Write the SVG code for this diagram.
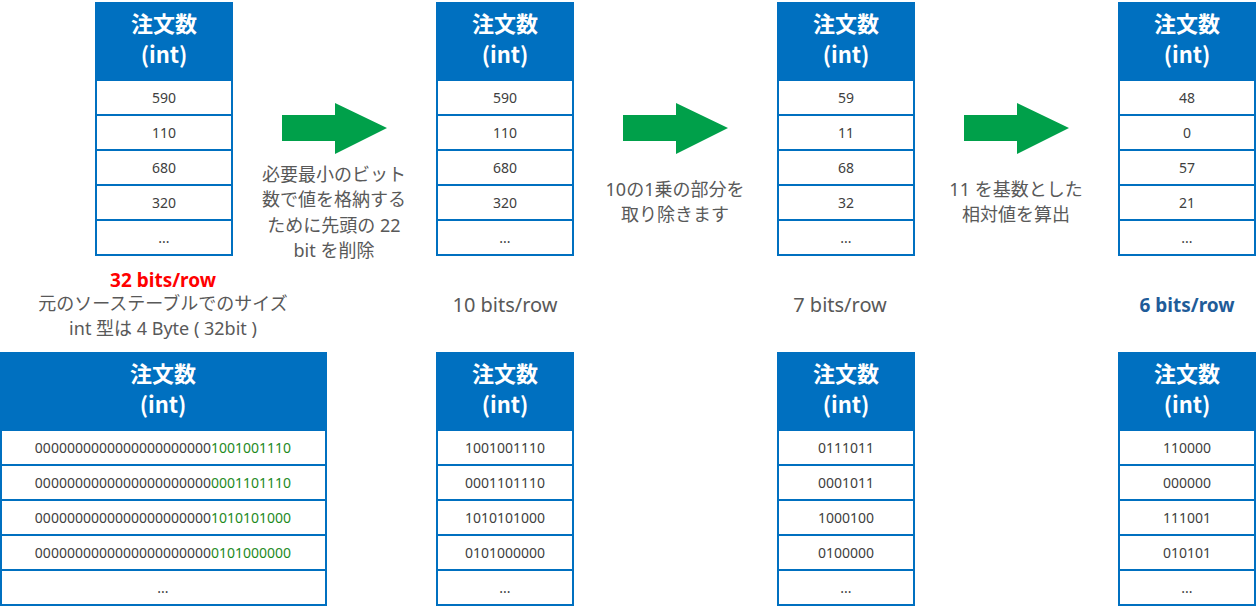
<svg xmlns="http://www.w3.org/2000/svg" width="1258" height="609" viewBox="0 0 1258 609">
<style>
.h{fill:#0070C0}
.c{fill:#fff;stroke:#0070C0;stroke-width:2}
.ht{font-family:"Noto Sans CJK JP","Noto Sans",sans-serif;font-weight:bold;font-size:22px;fill:#fff;text-anchor:middle}
.t{font-family:"Noto Sans","Open Sans",sans-serif;font-size:14px;fill:#404040;text-anchor:middle}
.g{fill:#1E8A1E}
.l{font-family:"Noto Sans","Noto Sans CJK JP",sans-serif;font-size:18px;fill:#595959;text-anchor:middle}
.a{fill:#00A04A}
</style>
<defs>
<g id="hdr"><rect class="h" x="0" y="0" width="138" height="78"/><text class="ht" x="69" y="30">注文数</text><text class="ht" x="69" y="61">(int)</text></g>
<g id="rows"><rect class="c" x="1" y="78" width="136" height="35"/><rect class="c" x="1" y="113" width="136" height="35"/><rect class="c" x="1" y="148" width="136" height="35"/><rect class="c" x="1" y="183" width="136" height="35"/><rect class="c" x="1" y="218" width="136" height="35"/></g>
</defs>
<g id="top1" transform="translate(95,2)"><use href="#hdr"/><use href="#rows"/>
<text class="t" x="69" y="101">590</text><text class="t" x="69" y="136">110</text><text class="t" x="69" y="171">680</text><text class="t" x="69" y="206">320</text><text class="t" x="69" y="241">...</text></g>
<g id="top2" transform="translate(436,2)"><use href="#hdr"/><use href="#rows"/>
<text class="t" x="69" y="101">590</text><text class="t" x="69" y="136">110</text><text class="t" x="69" y="171">680</text><text class="t" x="69" y="206">320</text><text class="t" x="69" y="241">...</text></g>
<g id="top3" transform="translate(777,2)"><use href="#hdr"/><use href="#rows"/>
<text class="t" x="69" y="101">59</text><text class="t" x="69" y="136">11</text><text class="t" x="69" y="171">68</text><text class="t" x="69" y="206">32</text><text class="t" x="69" y="241">...</text></g>
<g id="top4" transform="translate(1118,2)"><use href="#hdr"/><use href="#rows"/>
<text class="t" x="69" y="101">48</text><text class="t" x="69" y="136">0</text><text class="t" x="69" y="171">57</text><text class="t" x="69" y="206">21</text><text class="t" x="69" y="241">...</text></g>

<g id="bot1">
<rect class="h" x="0" y="352" width="327" height="78"/><text class="ht" x="163" y="382">注文数</text><text class="ht" x="163" y="413">(int)</text>
<rect class="c" x="1" y="430" width="325" height="35"/><rect class="c" x="1" y="465" width="325" height="35"/><rect class="c" x="1" y="500" width="325" height="35"/><rect class="c" x="1" y="535" width="325" height="35"/><rect class="c" x="1" y="570" width="325" height="35"/>
<text class="t" x="163" y="453">0000000000000000000000<tspan class="g">1001001110</tspan></text>
<text class="t" x="163" y="488">0000000000000000000000<tspan class="g">0001101110</tspan></text>
<text class="t" x="163" y="523">0000000000000000000000<tspan class="g">1010101000</tspan></text>
<text class="t" x="163" y="558">0000000000000000000000<tspan class="g">0101000000</tspan></text>
<text class="t" x="163" y="593">...</text></g>
<g id="bot2" transform="translate(436,352)"><use href="#hdr"/><use href="#rows"/>
<text class="t" x="69" y="101">1001001110</text><text class="t" x="69" y="136">0001101110</text><text class="t" x="69" y="171">1010101000</text><text class="t" x="69" y="206">0101000000</text><text class="t" x="69" y="241">...</text></g>
<g id="bot3" transform="translate(777,352)"><use href="#hdr"/><use href="#rows"/>
<text class="t" x="69" y="101">0111011</text><text class="t" x="69" y="136">0001011</text><text class="t" x="69" y="171">1000100</text><text class="t" x="69" y="206">0100000</text><text class="t" x="69" y="241">...</text></g>
<g id="bot4" transform="translate(1118,352)"><use href="#hdr"/><use href="#rows"/>
<text class="t" x="69" y="101">110000</text><text class="t" x="69" y="136">000000</text><text class="t" x="69" y="171">111001</text><text class="t" x="69" y="206">010101</text><text class="t" x="69" y="241">...</text></g>

<g id="connectors">
<polygon class="a" points="282,115 335,115 335,103 387,128 335,154 335,141 282,141"/>
<polygon class="a" points="623,115 676,115 676,103 728,128 676,154 676,141 623,141"/>
<polygon class="a" points="964,115 1017,115 1017,103 1069,128 1017,154 1017,141 964,141"/>
</g>
<g id="labels">
<text class="l" x="334" y="181">必要最小のビット</text>
<text class="l" x="334" y="206">数で値を格納する</text>
<text class="l" x="334" y="232">ために先頭の 22</text>
<text class="l" x="334" y="257">bit を削除</text>
<text class="l" x="675" y="196">10の1乗の部分を</text>
<text class="l" x="675" y="221">取り除きます</text>
<text class="l" x="1016" y="196">11 を基数とした</text>
<text class="l" x="1016" y="221">相対値を算出</text>
<text x="163" y="287" style="font-family:'Noto Sans',sans-serif;font-weight:bold;font-size:19px;fill:#FF0000;text-anchor:middle">32 bits/row</text>
<text class="l" x="163" y="310">元のソーステーブルでのサイズ</text>
<text class="l" x="163" y="335">int 型は 4 Byte ( 32bit )</text>
<text class="l" x="505" y="312" style="font-size:20px">10 bits/row</text>
<text class="l" x="840" y="312" style="font-size:20px">7 bits/row</text>
<text x="1187" y="312" style="font-family:'Noto Sans',sans-serif;font-weight:bold;font-size:19px;fill:#1F5C99;text-anchor:middle">6 bits/row</text>
</g>
</svg>
